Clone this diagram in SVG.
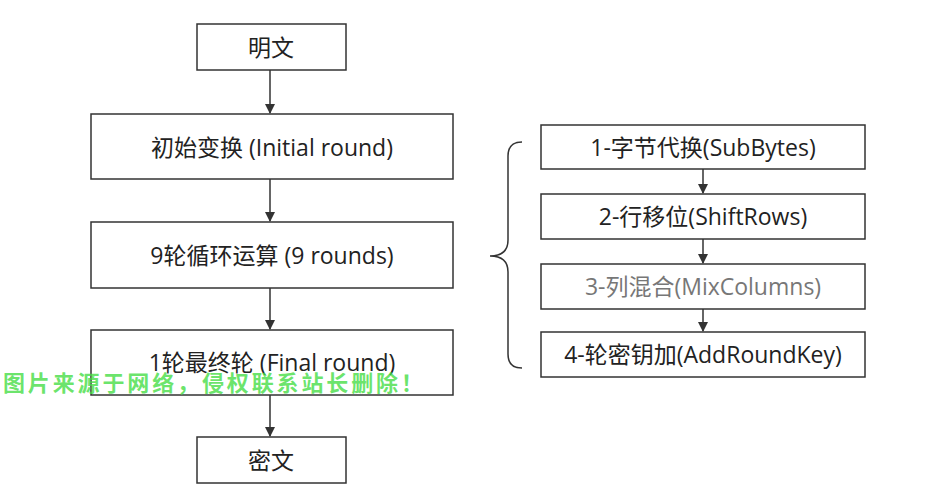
<svg xmlns="http://www.w3.org/2000/svg" width="932" height="500" viewBox="0 0 932 500">
<style>
.b{fill:#fff;stroke:#333;stroke-width:1.5}
.t{font-family:"Open Sans","Noto Sans CJK SC",sans-serif;font-size:23px;fill:#222;text-anchor:middle;dominant-baseline:central}
.c{stroke:#333;stroke-width:1.5;fill:none}
</style>
<defs><marker id="a" viewBox="0 0 10 10" refX="9" refY="5" markerWidth="7" markerHeight="7" orient="auto"><path d="M0,0L10,5L0,10z" fill="#333"/></marker></defs>
<rect width="932" height="500" fill="#fff"/>
<g id="connectors">
<line class="c" x1="270" y1="70" x2="270" y2="113" marker-end="url(#a)"/>
<line class="c" x1="270" y1="179" x2="270" y2="221" marker-end="url(#a)"/>
<line class="c" x1="270" y1="288" x2="270" y2="329" marker-end="url(#a)"/>
<line class="c" x1="270" y1="395" x2="270" y2="436" marker-end="url(#a)"/>
<line class="c" x1="703" y1="169" x2="703" y2="193" marker-end="url(#a)"/>
<line class="c" x1="703" y1="239" x2="703" y2="263" marker-end="url(#a)"/>
<line class="c" x1="703" y1="309" x2="703" y2="331" marker-end="url(#a)"/>
<path class="c" d="M522,142 Q508,142 508,156 L508,240 Q508,256 490,256 Q508,256 508,272 L508,354 Q508,368 522,368"/>
</g>
<g id="n1"><rect class="b" x="197" y="24" width="149" height="46"/><text class="t" x="271" y="47">明文</text></g>
<g id="n2"><rect class="b" x="91" y="114" width="362" height="65"/><text class="t" x="272" y="147">初始变换 (Initial round)</text></g>
<g id="n3"><rect class="b" x="91" y="222" width="362" height="66"/><text class="t" x="272" y="255">9轮循环运算 (9 rounds)</text></g>
<g id="n4"><rect class="b" x="91" y="330" width="362" height="65"/><text class="t" x="272" y="362">1轮最终轮 (Final round)</text></g>
<g id="n5"><rect class="b" x="197" y="437" width="149" height="46"/><text class="t" x="271" y="460">密文</text></g>
<g id="s1"><rect class="b" x="541" y="125" width="324" height="44"/><text class="t" x="703" y="147">1-字节代换(SubBytes)</text></g>
<g id="s2"><rect class="b" x="541" y="194" width="324" height="45"/><text class="t" x="703" y="216">2-行移位(ShiftRows)</text></g>
<g id="s3"><rect class="b" x="541" y="264" width="324" height="45"/><text class="t" x="703" y="286" style="fill:#777">3-列混合(MixColumns)</text></g>
<g id="s4"><rect class="b" x="541" y="332" width="324" height="45"/><text class="t" x="703" y="354">4-轮密钥加(AddRoundKey)</text></g>
<text x="3" y="391" textLength="420" style="font-family:'Noto Sans CJK SC',sans-serif;font-size:22px;font-weight:bold;fill:#44dd44;fill-opacity:0.8">图片来源于网络，侵权联系站长删除！</text>
</svg>
